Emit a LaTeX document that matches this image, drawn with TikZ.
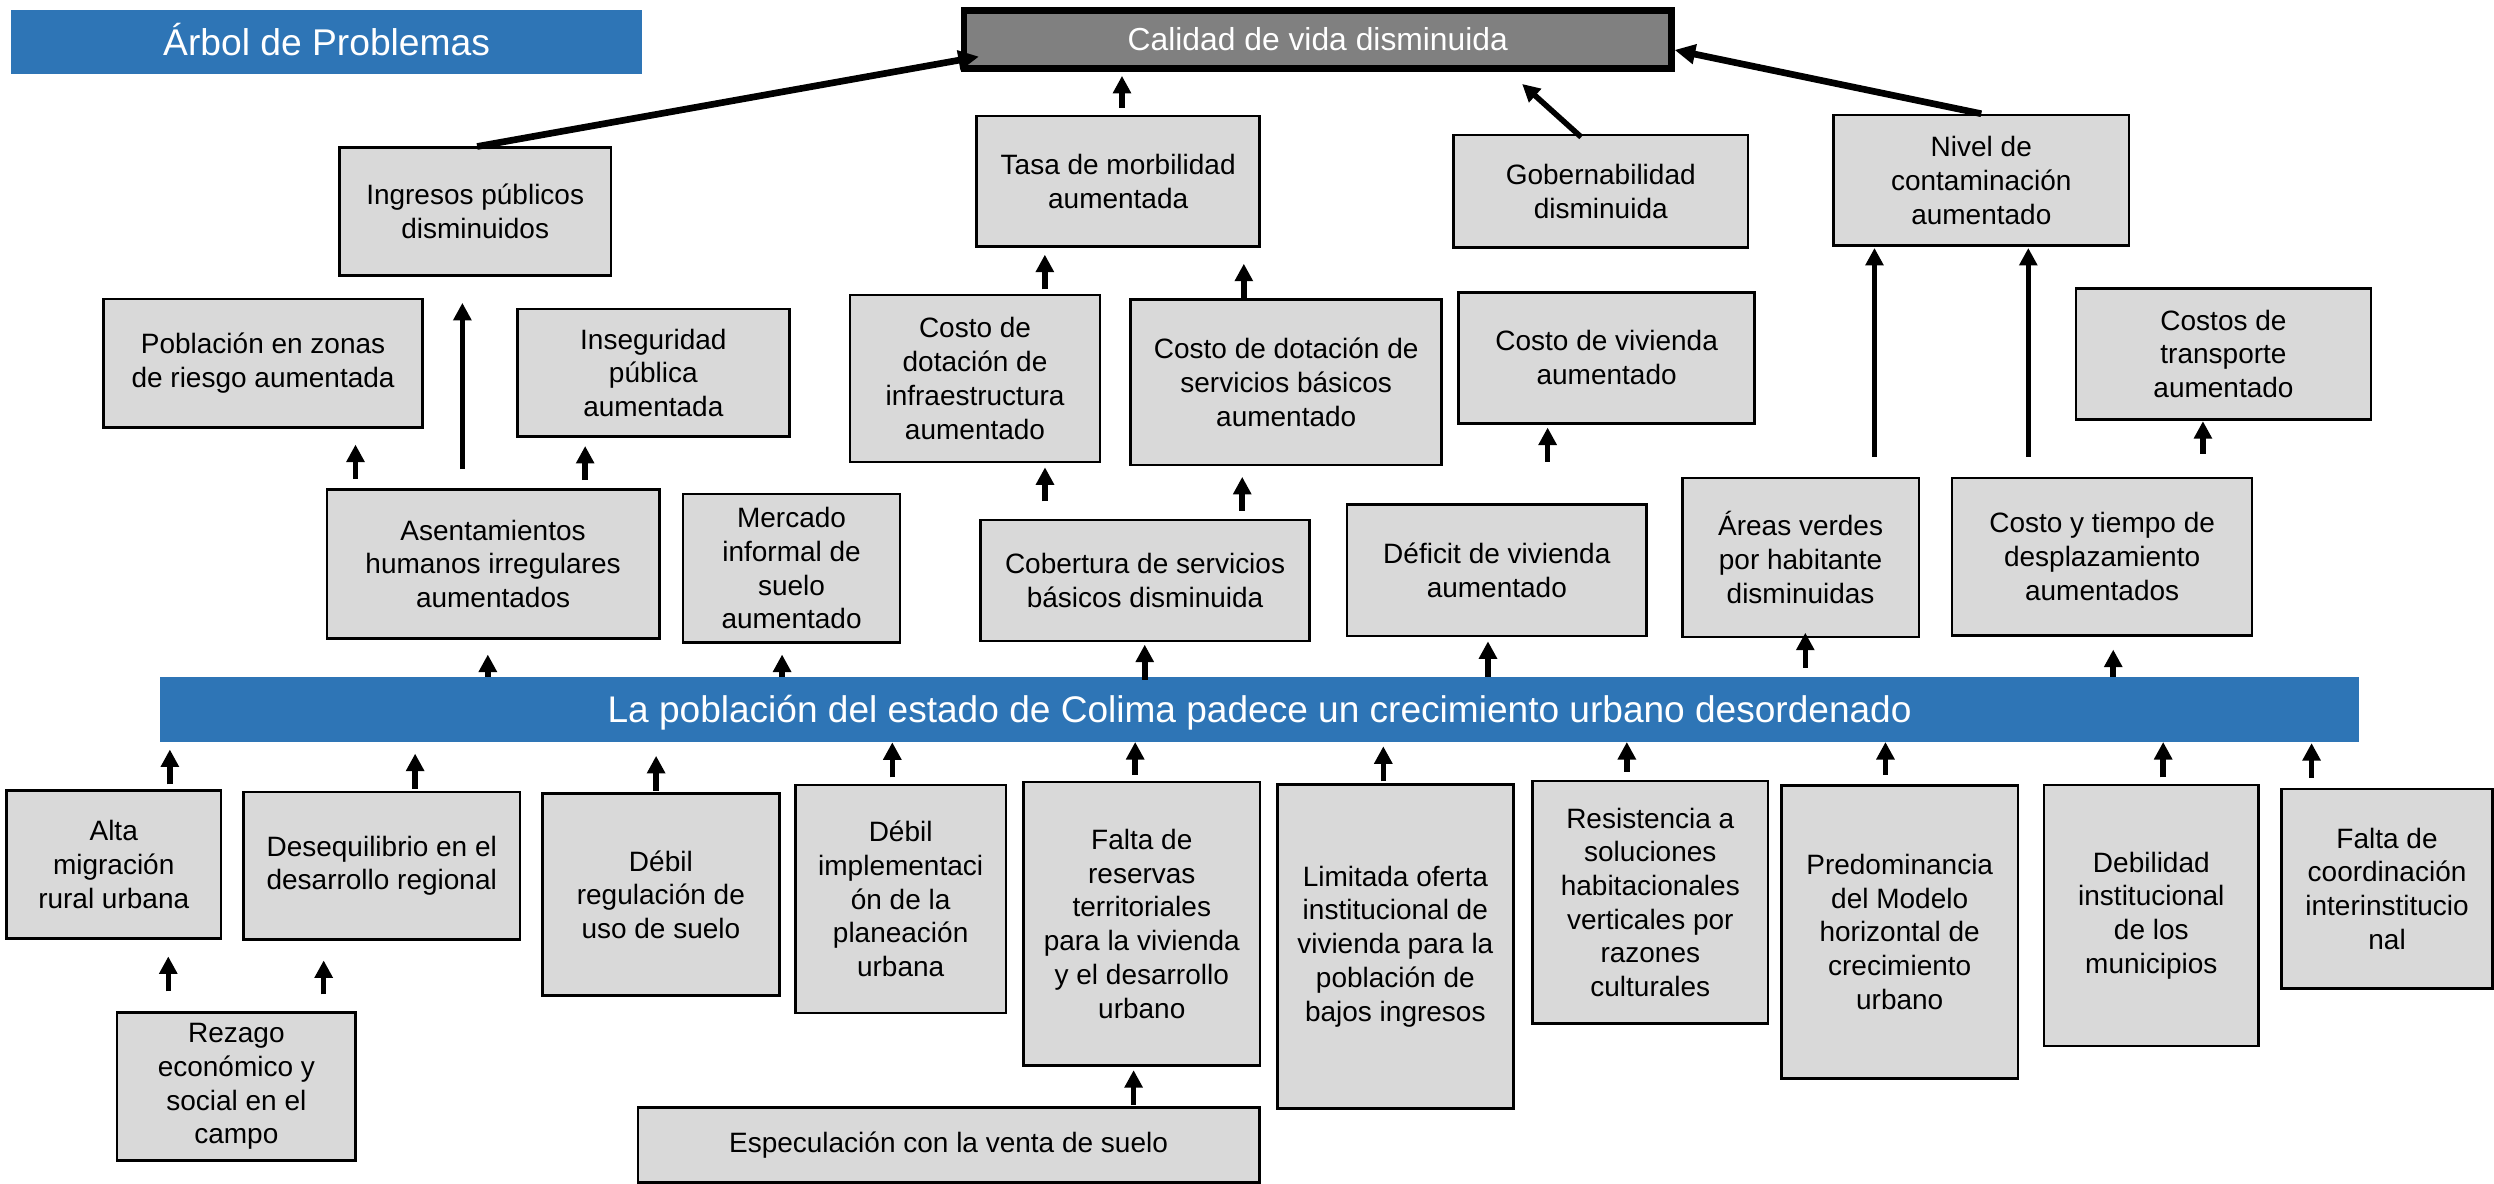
\documentclass[tikz,border=0pt]{standalone}
\usepackage{fontspec}
\setmainfont{Liberation Sans}
\usetikzlibrary{arrows.meta,calc}
\definecolor{barblue}{HTML}{2E75B6}
\definecolor{boxgray}{HTML}{D9D9D9}
\definecolor{topgray}{HTML}{808080}
\newcommand\mybox[6]{\node[box,minimum width=#4pt,minimum height=#5pt] (#1) at (#2,#3) {#6};}
\newcommand\varr[5]{\draw[arr] ($(#1.north)+(#3,#4)$) -- ($(#1.north |- #2.south)+(#3,#5)$);}
\begin{document}
\begin{tikzpicture}[x=1pt,y=-1pt,
  box/.style={draw=black,fill=boxgray,line width=1.6pt,inner sep=0pt,align=center,
    font=\fontsize{17.6}{21.2}\selectfont,text=black},
  arr/.style={line width=3.5pt,-{Triangle[length=11pt,width=11pt]}},
  sarr/.style={line width=4.2pt,-{Triangle[length=13pt,width=12pt]}}]
\useasboundingbox (0,0) rectangle (1568,744);
% title and effect
\node[fill=barblue,text=white,inner sep=0pt,minimum width=396.9pt,minimum height=40.2pt,
  font=\fontsize{23.4}{28}\selectfont,text height=17pt,text depth=0pt] (titulo) at (205.35,26.4) {Árbol de Problemas};
\node[draw=black,line width=4pt,fill=topgray,text=white,inner sep=0pt,minimum width=444.6pt,
  minimum height=36.5pt,font=\fontsize{20}{24}\selectfont,text height=14.3pt,text depth=0pt] (calidad) at (828.5,24.85) {Calidad de vida disminuida};
% upper effects
\mybox{ingresos}{298.75}{133}{170.9}{80.2}{Ingresos públicos\\disminuidos}
\mybox{tasa}{703}{114}{178}{82.2}{Tasa de morbilidad\\aumentada}
\mybox{gob}{1006.4}{120.25}{185.2}{70.5}{Gobernabilidad\\disminuida}
\mybox{nivel}{1245.65}{113.4}{185.7}{82.2}{Nivel de\\contaminación\\aumentado}
\mybox{poblacion}{165.4}{228.45}{200.4}{80.9}{Población en zonas\\de riesgo aumentada}
\mybox{inseg}{410.75}{234.4}{170.9}{80.2}{Inseguridad\\pública\\aumentada}
\mybox{infra}{613}{237.95}{157.4}{104.9}{Costo de\\dotación de\\infraestructura\\aumentado}
\mybox{serv}{808.65}{240.25}{195.5}{104.1}{Costo de dotación de\\servicios básicos\\aumentado}
\mybox{vivienda}{1010.1}{224.95}{186}{82.3}{Costo de vivienda\\aumentado}
\mybox{transporte}{1397.9}{222.45}{185.6}{82.3}{Costos de\\transporte\\aumentado}
\mybox{asent}{310}{354.45}{209}{93.7}{Asentamientos\\humanos irregulares\\aumentados}
\mybox{mercado}{497.65}{357.3}{136.3}{93.4}{Mercado\\informal de\\suelo\\aumentado}
\mybox{cobertura}{719.9}{364.95}{206.8}{76.1}{Cobertura de servicios\\básicos disminuida}
\mybox{deficit}{941.05}{358.5}{188.5}{82.6}{Déficit de vivienda\\aumentado}
\mybox{areas}{1132.05}{350.45}{148.7}{99.9}{Áreas verdes\\por habitante\\disminuidas}
\mybox{costotiempo}{1321.6}{349.95}{188.6}{98.9}{Costo y tiempo de\\desplazamiento\\aumentados}
% central problem
\node[fill=barblue,text=white,inner sep=0pt,minimum width=1382.5pt,minimum height=40.7pt,
  font=\fontsize{23.3}{28}\selectfont,text height=16.5pt,text depth=0pt] (bar) at (791.95,445.95)
  {La población del estado de Colima padece un crecimiento urbano desordenado};
% causes
\mybox{alta}{71.5}{543.5}{135}{93}{Alta\\migración\\rural urbana}
\mybox{deseq}{240}{544.25}{174}{92.5}{Desequilibrio en el\\desarrollo regional}
\mybox{debreg}{415.5}{562.45}{149}{127.1}{Débil\\regulación de\\uso de suelo}
\mybox{debimpl}{566.25}{565.25}{132.5}{143.5}{Débil\\implementaci\\ón de la\\planeación\\urbana}
\mybox{reservas}{717.85}{580.8}{148.7}{178.4}{Falta de\\reservas\\territoriales\\para la vivienda\\y el desarrollo\\urbano}
\mybox{limitada}{877.25}{595.05}{148.5}{203.9}{Limitada oferta\\institucional de\\vivienda para la\\población de\\bajos ingresos}
\mybox{resist}{1037.55}{567.3}{148.1}{152.6}{Resistencia a\\soluciones\\habitacionales\\verticales por\\razones\\culturales}
\mybox{predom}{1194.35}{585.85}{148.7}{184.3}{Predominancia\\del Modelo\\horizontal de\\crecimiento\\urbano}
\mybox{debil}{1352.55}{575.55}{134.7}{164.1}{Debilidad\\institucional\\de los\\municipios}
\mybox{coord}{1500.75}{558.7}{132.5}{125.4}{Falta de\\coordinación\\interinstitucio\\nal}
\mybox{rezago}{148.6}{683.1}{149.8}{93}{Rezago\\económico y\\social en el\\campo}
\mybox{especul}{596.35}{719.85}{390.7}{47.3}{Especulación con la venta de suelo}
% arrows: causes -> problem
\varr{alta}{bar}{35.3}{-3}{4.7}
\varr{deseq}{bar}{21}{-1.3}{7.3}
\varr{debreg}{bar}{-3}{-0.9}{8.7}
\varr{debimpl}{bar}{-5.25}{-4}{0.2}
\varr{reservas}{bar}{-4.15}{-3.6}{0}
\varr{limitada}{bar}{-7.55}{-1.1}{2.7}
\varr{resist}{bar}{-14.75}{-5}{0}
\varr{predom}{bar}{-8.95}{-5.7}{0}
\varr{debil}{bar}{7.45}{-4}{0}
\varr{coord}{bar}{-47.45}{-6}{0.7}
\varr{rezago}{alta}{-42.8}{-12.6}{10.5}
\varr{rezago}{deseq}{54.9}{-10.6}{12.5}
\varr{especul}{reservas}{116.35}{-0.6}{2}
% problem -> effects
\varr{bar}{asent}{-485.25}{0}{9.4}
\varr{bar}{mercado}{-300.25}{0}{6.7}
\varr{bar}{cobertura}{-72.25}{1.9}{1.5}
\varr{bar}{deficit}{143.55}{0}{2.6}
\varr{bar}{areas}{343.05}{-5.6}{-3.4}
\varr{bar}{costotiempo}{536.65}{0}{8.2}
\varr{asent}{poblacion}{-86.5}{-5.9}{9.8}
\varr{asent}{ingresos}{-19.3}{-11.8}{16.5}
\varr{asent}{inseg}{57.9}{-5}{5.1}
\varr{cobertura}{infra}{-62.9}{-10.9}{2.6}
\varr{cobertura}{serv}{61.1}{-4.9}{6.7}
\varr{deficit}{vivienda}{31.95}{-26.2}{1.9}
\varr{areas}{nivel}{46.45}{-12.5}{0.6}
\varr{costotiempo}{nivel}{-46.4}{-12.5}{0.6}
\varr{costotiempo}{transporte}{63.4}{-14.5}{0.4}
\varr{infra}{tasa}{43.9}{-2.7}{4.2}
\varr{serv}{tasa}{-26.65}{-0.2}{9.9}
\varr{tasa}{calidad}{2.4}{-4.2}{2.6}
% slanted arrows to the top effect
\draw[sarr] ($(ingresos.north)+(1.25,0)$) -- ($(calidad.west)+(11.3,10.75)$);
\draw[arr] ($(gob.north)+(-12.3,2)$) -- ($(calidad.south east)+(-95.8,7.7)$);
\draw[sarr] (nivel.north) -- ($(calidad.east)+(0,6.55)$);
\end{tikzpicture}
\end{document}
